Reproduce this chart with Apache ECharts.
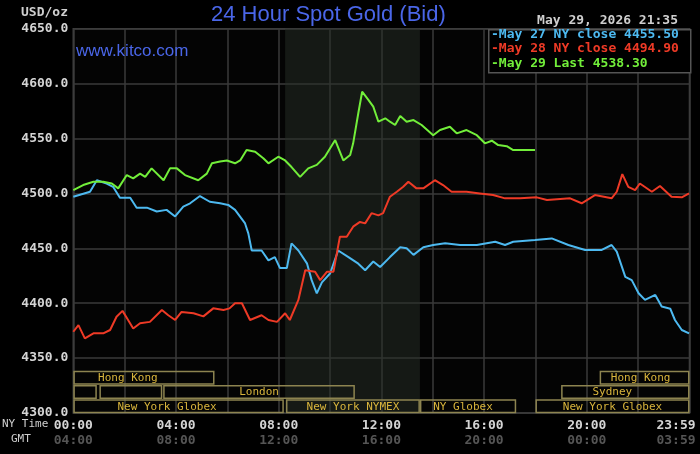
<!DOCTYPE html>
<html>
<head>
<meta charset="utf-8">
<script src="https://cdn.jsdelivr.net/npm/echarts@6/dist/echarts.min.js"></script>
<style>
html,body{margin:0;padding:0;background:#000;}
#c{width:700px;height:454px;}
</style>
</head>
<body>
<div id="c"></div>
<script>
// ---- data (minutes after 00:00 NY time, USD/oz) ----
const blueT = [0,39,55,78,93,109,133,148,172,195,218,238,257,273,296,319,343,362,378,401,409,417,440,456,471,483,499,510,526,546,557,569,581,600,619,643,666,682,701,717,740,764,779,795,818,841,869,904,943,986,1009,1028,1079,1118,1157,1196,1235,1258,1270,1290,1305,1321,1336,1360,1375,1395,1406,1422,1439];
const blueV = [4497,4501.5,4512,4509,4506,4496,4496,4487,4487,4483.5,4485,4479,4488,4491,4497.6,4492.4,4491,4489.5,4485,4473,4463.6,4448,4448,4439,4442,4432,4432,4454.5,4448,4436.3,4421,4409,4419,4427,4448,4442,4436,4430,4438,4433,4442,4451,4450,4444,4451,4453,4454.5,4453,4453,4456,4453,4456,4457.5,4459,4453,4448.5,4448.5,4453,4447,4424,4421,4409,4403,4407.5,4397,4395,4384.7,4375.6,4372.5];

const redT = [0,12,27,47,70,86,101,115,128,140,156,179,207,222,238,253,281,304,327,351,365,378,394,413,440,456,476,495,506,526,542,565,577,593,608,623,639,654,670,682,697,713,724,740,756,771,783,802,818,845,864,884,919,950,981,1009,1044,1083,1107,1161,1188,1219,1258,1270,1283,1297,1313,1324,1352,1371,1398,1422,1439];
const redV = [4374,4380,4368,4372.6,4372.6,4375.6,4387.7,4393,4384.7,4377,4381.7,4383,4393.8,4389,4384.7,4392,4390.8,4388,4395.3,4393.8,4395.3,4400,4400,4384.7,4389,4384.7,4383,4390.8,4384.7,4403,4430,4428.7,4421,4428.7,4428.7,4460.5,4460.5,4469.7,4474,4472.7,4482,4480,4482,4497,4501.5,4506,4510.6,4504.6,4504.6,4512,4507.6,4501.5,4501.5,4500,4498.5,4495.5,4495.5,4496.4,4494,4495.5,4491,4498.5,4495.5,4501.5,4517.6,4506,4503,4509,4501.5,4506.7,4497,4496.4,4500];

const greenT = [0,23,47,70,90,105,125,140,156,168,183,211,226,242,261,292,312,324,343,359,378,390,405,425,444,456,479,495,510,530,549,569,588,612,631,647,654,666,675,690,701,713,729,740,752,764,779,795,814,841,857,880,896,919,943,962,978,993,1013,1028,1079];
const greenV = [4503,4507.6,4510.6,4510.6,4509,4504.6,4516.7,4513.7,4518,4515,4522.8,4512,4522.8,4522.8,4516.7,4512,4518,4527.4,4529,4530,4527.4,4530,4539.5,4538,4532,4527.4,4533.4,4530,4524,4515,4522.8,4526,4533.4,4548.6,4530,4535,4545.6,4573,4592.6,4585,4579,4565.3,4568.4,4565.3,4562.3,4570.5,4565.3,4566.8,4562.3,4553,4557.7,4560.7,4554.7,4557.7,4553,4545.6,4548,4544,4543,4539.5,4539.5];

const legendLabels = ['-May 27 NY close 4455.50','-May 28 NY close 4494.90','-May 29 Last 4538.30'];

const tickMin = [0,240,480,720,960,1200,1440];
const nyTicks = ['00:00','04:00','08:00','12:00','16:00','20:00','23:59'];
const gmtTicks = ['04:00','08:00','12:00','16:00','20:00','00:00','03:59'];

const sessionName  = ['New York Globex','New York NYMEX','NY Globex','New York Globex','','','London','Sydney','Hong Kong','Hong Kong'];
const sessionStart = [0,497,810,1080,0,61,210,1140,0,1230];
const sessionEnd   = [492,810,1035,1440,55,208,658,1440,330,1440];
const sessionRow   = [0,0,0,0,1,1,1,1,2,2];

const pitStart = 495, pitEnd = 810;

// ---- styles ----
const mono = '"DejaVu Sans Mono", monospace';
const sans = '"Liberation Sans", Arial, sans-serif';
const labelShift = [-11.5,0,-5,0,0,0,0,-13,-16,-4];

function pairs(t, v){ return t.map((x,i)=>[x, v[i]]); }

const chart = echarts.init(document.getElementById('c'), null, {renderer:'canvas'});

const sessionData = sessionName.map((n,i)=>[sessionStart[i], sessionEnd[i], sessionRow[i], i]);

const option = {
  backgroundColor: '#000',
  animation: false,
  grid: {left: 73.3, right: 10.5, top: 28.7, bottom: 41, containLabel: false, outerBoundsMode: 'none',
         show: true, borderColor: '#444', borderWidth: 1.5, backgroundColor: '#040404'},
  xAxis: {
    type: 'value', min: 0, max: 1440, interval: 120,
    axisLine: {show: false}, axisTick: {show: false},
    splitLine: {show: true, lineStyle: {color: '#3a3a3a', width: 1.5}},
    axisLabel: {
      margin: 5,
      formatter: function(v){
        const k = tickMin.indexOf(v);
        if (k < 0) return '';
        if (k === tickMin.length-1) return '{a2|' + nyTicks[k] + '}\n{b2|' + gmtTicks[k] + '}';
        return '{a|' + nyTicks[k] + '}\n{b|' + gmtTicks[k] + '}';
      },
      rich: {
        a: {fontFamily: mono, fontWeight: 'bold', fontSize: 13, color: '#d4d4d4', lineHeight: 15},
        b: {fontFamily: mono, fontWeight: 'bold', fontSize: 13, color: '#555', lineHeight: 15},
        a2: {fontFamily: mono, fontWeight: 'bold', fontSize: 13, color: '#d4d4d4', lineHeight: 15, padding: [0,27,0,0]},
        b2: {fontFamily: mono, fontWeight: 'bold', fontSize: 13, color: '#555', lineHeight: 15, padding: [0,27,0,0]}
      }
    }
  },
  yAxis: {
    type: 'value', min: 4300, max: 4650, interval: 50,
    axisLine: {show: false}, axisTick: {show: false},
    splitLine: {show: true, lineStyle: {color: '#3a3a3a', width: 1.5}},
    axisLabel: {
      margin: 5, fontFamily: mono, fontWeight: 'bold', fontSize: 13, color: '#d4d4d4',
      formatter: v => v.toFixed(1)
    }
  },
  series: [
    {
      type: 'line', name: 'pit', data: [], silent: true,
      markArea: {silent: true, itemStyle: {color: 'rgba(38,46,38,0.5)'}, data: [[{xAxis: pitStart}, {xAxis: pitEnd}]]}
    },
    {
      type: 'custom', name: 'sessions', silent: true, z: 3,
      data: sessionData,
      renderItem: function(params, api){
        const s = api.value(0), e = api.value(1), r = api.value(2), idx = api.value(3);
        const p0 = api.coord([s, 4300]);
        const p1 = api.coord([e, 4300]);
        const rowH = 14.2;
        const y = p0[1] - (r+1)*rowH + 1.2;
        const h = 12.4;
        const children = [{
          type: 'rect',
          shape: {x: p0[0] + 0.75, y: y, width: p1[0]-p0[0]-1.5, height: h},
          style: {fill: 'none', stroke: '#8d8450', lineWidth: 1.5}
        }];
        const name = sessionName[idx];
        if (name) {
          children.push({
            type: 'text',
            style: {
              x: (p0[0]+p1[0])/2 + labelShift[idx], y: y + h/2 + 0.5,
              text: name, align: 'center', verticalAlign: 'middle',
              fontFamily: mono, fontSize: 11, fill: '#d9b53c'
            }
          });
        }
        return {type: 'group', children: children};
      }
    },
    {type: 'line', name: 'May 27', data: pairs(blueT, blueV), showSymbol: false, z: 5,
     lineStyle: {color: '#4db9f0', width: 2}, itemStyle: {color: '#4db9f0'}},
    {type: 'line', name: 'May 28', data: pairs(redT, redV), showSymbol: false, z: 5,
     lineStyle: {color: '#ee3a26', width: 2}, itemStyle: {color: '#ee3a26'}},
    {type: 'line', name: 'May 29', data: pairs(greenT, greenV), showSymbol: false, z: 5,
     lineStyle: {color: '#72ee3a', width: 2}, itemStyle: {color: '#72ee3a'}}
  ],
  graphic: [
    {type: 'text', left: 211, top: 4, style: {text: '24 Hour Spot Gold (Bid)', fontFamily: sans, fontSize: 22, fill: '#4a66e8'}},
    {type: 'text', left: 76, top: 43, style: {text: 'www.kitco.com', fontFamily: sans, fontSize: 17, fill: '#4a66e8'}, z: 10},
    {type: 'text', right: 22, top: 14, style: {text: 'May 29, 2026 21:35', fontFamily: mono, fontWeight: 'bold', fontSize: 13, fill: '#cfcfcf'}},
    {type: 'text', left: 21, top: 6, style: {text: 'USD/oz', fontFamily: mono, fontWeight: 'bold', fontSize: 13, fill: '#cfcfcf'}},
    {type: 'text', left: 2, top: 419, style: {text: 'NY Time', fontFamily: mono, fontSize: 11, fill: '#cfcfcf'}},
    {type: 'text', left: 11, top: 434, style: {text: 'GMT', fontFamily: mono, fontSize: 11, fill: '#cfcfcf'}},
    {type: 'rect', left: 488, top: 29, z: 20, shape: {width: 202, height: 43},
     style: {fill: '#000', stroke: '#555', lineWidth: 1.5}},
    {type: 'text', left: 491, top: 28, z: 21, style: {text: legendLabels[0], fontFamily: mono, fontWeight: 'bold', fontSize: 13, fill: '#4db9f0'}},
    {type: 'text', left: 491, top: 42, z: 21, style: {text: legendLabels[1], fontFamily: mono, fontWeight: 'bold', fontSize: 13, fill: '#ee3a26'}},
    {type: 'text', left: 491, top: 57, z: 21, style: {text: legendLabels[2], fontFamily: mono, fontWeight: 'bold', fontSize: 13, fill: '#72ee3a'}}
  ]
};
chart.setOption(option);
</script>
</body>
</html>
